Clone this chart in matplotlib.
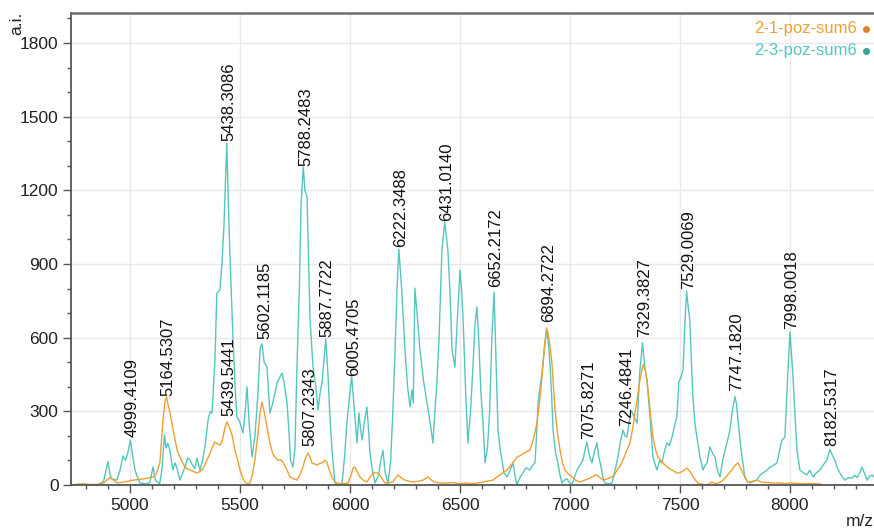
import matplotlib
matplotlib.use("Agg")
import matplotlib.pyplot as plt
from matplotlib.ticker import MultipleLocator

plt.rcParams['font.family'] = ['Liberation Sans', 'DejaVu Sans']

# 2-3-poz-sum6 (teal)
teal_mz = [4862, 4880, 4900, 4910, 4918, 4940, 4955, 4968, 4980, 4990, 5002, 5012, 5023, 5035, 5045,
           5070, 5090, 5105, 5115, 5135, 5145, 5157, 5164, 5172, 5182, 5195, 5205, 5214, 5227, 5240,
           5250, 5262, 5273, 5285, 5295, 5305, 5318, 5330, 5341, 5355, 5365, 5373, 5386, 5395, 5409,
           5418, 5427, 5440, 5452, 5468, 5478, 5486, 5495, 5505, 5514, 5524, 5532, 5542, 5555, 5568,
           5580, 5592, 5600, 5610, 5623, 5636, 5648, 5659, 5670, 5682, 5691, 5700, 5714, 5723, 5730,
           5741, 5750, 5759, 5770, 5778, 5788, 5795, 5805, 5818, 5832, 5845, 5855, 5865, 5873, 5883,
           5890, 5900, 5909, 5920, 5932, 5950, 5964, 5976, 5986, 6000, 6008, 6018, 6023, 6032, 6041,
           6048, 6055, 6066, 6077, 6085, 6091, 6102, 6114, 6130, 6140, 6150, 6160, 6173, 6185, 6195,
           6205, 6214, 6222, 6235, 6250, 6262, 6273, 6282, 6288, 6295, 6305, 6318, 6335, 6350, 6365,
           6377, 6386, 6395, 6405, 6418, 6431, 6445, 6454, 6464, 6477, 6490, 6500, 6507, 6514, 6525,
           6536, 6548, 6559, 6568, 6577, 6585, 6595, 6605, 6614, 6625, 6635, 6645, 6655, 6664, 6673,
           6682, 6691, 6700, 6714, 6728, 6741, 6750, 6759, 6772, 6786, 6800, 6818, 6830, 6841, 6848,
           6855, 6864, 6873, 6884, 6895, 6902, 6909, 6916, 6923, 6935, 6945, 6955, 6964, 6975, 6986,
           6998, 7009, 7020, 7032, 7045, 7059, 7068, 7077, 7088, 7100, 7112, 7123, 7130, 7140, 7150,
           7159, 7175, 7191, 7205, 7218, 7230, 7241, 7250, 7259, 7268, 7278, 7290, 7305, 7318, 7330,
           7340, 7350, 7364, 7377, 7395, 7408, 7418, 7430, 7441, 7452, 7464, 7478, 7486, 7495, 7505,
           7514, 7522, 7530, 7538, 7545, 7552, 7559, 7568, 7577, 7591, 7605, 7614, 7623, 7636, 7648,
           7659, 7670, 7682, 7694, 7705, 7716, 7727, 7738, 7750, 7757, 7764, 7773, 7782, 7795, 7808,
           7818, 7835, 7850, 7864, 7877, 7895, 7909, 7925, 7941, 7955, 7964, 7977, 7990, 8000, 8008,
           8014, 8023, 8032, 8045, 8060, 8077, 8090, 8105, 8120, 8136, 8150, 8168, 8182, 8193, 8205,
           8215, 8227, 8240, 8250, 8265, 8282, 8295, 8305, 8318, 8327, 8338, 8350, 8362, 8373, 8385]
teal_ai = [5, 15, 96, 40, 25, 20, 60, 118, 100, 130, 183, 120, 61, 30, 8,
           5, 10, 73, 20, 5, 60, 205, 150, 170, 140, 61, 90, 67, 20, 50,
           73, 110, 102, 80, 67, 110, 60, 100, 155, 265, 300, 293, 500, 780, 795,
           900, 1050, 1392, 1000, 603, 400, 277, 265, 240, 212, 300, 400, 250, 114, 200,
           350, 560, 575, 500, 480, 293, 330, 375, 420, 440, 456, 420, 334, 212, 100,
           73, 150, 480, 800, 1150, 1295, 1200, 1173, 684, 480, 400, 305, 380, 415, 520,
           595, 450, 277, 120, 8, 0, 5, 120, 252, 380, 440, 330, 277, 171, 293,
           230, 183, 260, 318, 220, 130, 60, 8, 40, 100, 142, 50, 5, 100, 300,
           550, 800, 960, 800, 550, 400, 318, 387, 334, 802, 700, 550, 420, 334, 250,
           171, 300, 415, 600, 957, 1071, 957, 800, 550, 480, 700, 875, 800, 684, 400,
           171, 300, 480, 650, 725, 600, 380, 250, 90, 150, 300, 600, 786, 500, 224,
           150, 102, 50, 33, 60, 90, 40, 0, 30, 49, 70, 61, 80, 90, 200,
           334, 400, 456, 560, 631, 580, 497, 380, 224, 130, 90, 40, 8, 20, 25,
           10, 0, 30, 61, 80, 102, 140, 175, 120, 90, 140, 171, 120, 80, 30,
           8, 5, 8, 60, 114, 180, 224, 200, 195, 250, 305, 280, 252, 468, 580,
           480, 427, 277, 114, 61, 100, 90, 140, 171, 160, 195, 250, 277, 420, 440,
           468, 650, 790, 720, 672, 500, 358, 250, 195, 114, 61, 80, 90, 155, 130,
           114, 60, 33, 100, 142, 180, 224, 300, 360, 330, 265, 180, 114, 33, 15,
           8, 15, 20, 40, 49, 60, 73, 80, 90, 150, 183, 195, 450, 623, 520,
           440, 280, 142, 61, 50, 41, 60, 33, 50, 61, 80, 102, 145, 120, 100,
           70, 49, 30, 20, 30, 28, 40, 30, 50, 73, 50, 20, 35, 41, 30]

# 2-1-poz-sum6 (orange)
orange_mz = [4732, 4760, 4790, 4820, 4859, 4880, 4895, 4909, 4925, 4941, 4968, 4990, 5014, 5040, 5059,
             5080, 5105, 5120, 5136, 5150, 5160, 5166, 5175, 5182, 5195, 5205, 5215, 5227, 5240, 5250,
             5262, 5273, 5290, 5305, 5318, 5327, 5340, 5350, 5362, 5373, 5386, 5398, 5409, 5418, 5423,
             5432, 5441, 5452, 5464, 5477, 5490, 5500, 5512, 5523, 5535, 5545, 5556, 5568, 5582, 5592,
             5600, 5612, 5623, 5636, 5648, 5659, 5670, 5682, 5690, 5700, 5714, 5727, 5745, 5759, 5772,
             5786, 5798, 5809, 5818, 5827, 5840, 5850, 5862, 5873, 5885, 5895, 5906, 5918, 5930, 5941,
             5965, 5991, 6005, 6015, 6023, 6035, 6045, 6060, 6077, 6090, 6105, 6120, 6136, 6150, 6159,
             6180, 6195, 6208, 6218, 6232, 6250, 6270, 6286, 6310, 6332, 6355, 6370, 6386, 6410, 6441,
             6470, 6500, 6530, 6560, 6590, 6620, 6650, 6680, 6714, 6740, 6760, 6775, 6790, 6818, 6835,
             6850, 6862, 6873, 6885, 6893, 6900, 6910, 6918, 6932, 6945, 6955, 6966, 6977, 6993, 7009,
             7025, 7045, 7068, 7091, 7110, 7123, 7137, 7150, 7170, 7191, 7205, 7214, 7230, 7241, 7258,
             7273, 7286, 7298, 7305, 7318, 7332, 7342, 7350, 7364, 7377, 7390, 7400, 7412, 7423, 7440,
             7455, 7470, 7486, 7500, 7515, 7532, 7545, 7555, 7570, 7582, 7600, 7623, 7645, 7660, 7673,
             7690, 7705, 7720, 7736, 7750, 7764, 7775, 7786, 7798, 7809, 7830, 7850, 7870, 7895, 7925,
             7955, 7980, 8000, 8030, 8059, 8090, 8123, 8140]
orange_ai = [0, 3, 5, 2, 3, 8, 20, 30, 20, 8, 12, 15, 20, 22, 25,
             28, 33, 45, 90, 265, 345, 358, 320, 293, 230, 183, 140, 114, 90, 73,
             65, 61, 55, 49, 55, 61, 80, 102, 125, 150, 175, 168, 163, 175, 195,
             235, 257, 235, 203, 142, 100, 61, 30, 12, 5, 8, 40, 102, 212, 300,
             338, 290, 236, 171, 130, 114, 102, 102, 100, 85, 60, 33, 25, 20, 40,
             73, 110, 130, 115, 90, 85, 81, 88, 90, 100, 94, 60, 33, 15, 8,
             5, 8, 40, 70, 73, 50, 33, 20, 12, 30, 49, 50, 41, 20, 8,
             10, 12, 30, 41, 30, 20, 15, 12, 15, 20, 33, 20, 12, 8, 8,
             10, 5, 8, 5, 10, 15, 20, 40, 61, 90, 114, 120, 130, 142, 190,
             252, 340, 440, 570, 640, 620, 560, 497, 305, 200, 142, 90, 61, 45, 33,
             20, 12, 20, 28, 38, 41, 30, 20, 25, 33, 45, 61, 80, 102, 140,
             171, 236, 310, 346, 427, 490, 470, 427, 305, 195, 140, 114, 100, 90, 75,
             65, 58, 49, 50, 58, 69, 55, 41, 20, 8, 3, 0, 12, 5, 8,
             15, 28, 45, 61, 80, 90, 70, 49, 25, 12, 15, 20, 12, 10, 8,
             8, 5, 8, 6, 5, 6, 5, 4]

# peak labels and where they sit
peak_labels = ['4999.4109', '5164.5307', '5438.3086', '5439.5441', '5602.1185', '5788.2483',
               '5807.2343', '5887.7722', '6005.4705', '6222.3488', '6431.0140', '6652.2172',
               '6894.2722', '7075.8271', '7246.4841', '7329.3827', '7529.0069', '7747.1820',
               '7998.0018', '8182.5317']
peak_ai = [191, 358, 1396, 277, 590, 1295, 155, 598, 440, 965, 1071, 802,
           660, 183, 236, 598, 794, 379, 631, 155]

series_names = ['2-1-poz-sum6', '2-3-poz-sum6']
teal = '#55C6BF'
orange = '#EFA030'

fig = plt.figure(figsize=(8.74, 5.32), dpi=100)
ax = fig.add_axes([71 / 874, 1 - 485 / 532, 1 - 71 / 874, (485 - 13) / 532])

ax.plot(teal_mz, teal_ai, color=teal, lw=1.0)
ax.plot(orange_mz, orange_ai, color=orange, lw=1.0)

for lab, yv in zip(peak_labels, peak_ai):
    ax.annotate(lab, (float(lab), yv), xytext=(1.5, 1), textcoords='offset points',
                rotation=90, ha='center', va='bottom', fontsize=12, color='#111111')

ax.set_xlim(4732, 8382)
ax.set_ylim(0, 1922)
ax.xaxis.set_major_locator(MultipleLocator(500))
ax.xaxis.set_minor_locator(MultipleLocator(100))
ax.yaxis.set_major_locator(MultipleLocator(300))
ax.yaxis.set_minor_locator(MultipleLocator(100))
ax.grid(True, which='major', color='#E9E9E9', lw=1.0)
ax.set_axisbelow(True)
ax.tick_params(which='major', length=6, width=1, color='#555555', labelsize=12.5,
               labelcolor='#222222', pad=3)
ax.tick_params(which='minor', length=3, width=1, color='#555555')

ax.spines['right'].set_visible(False)
ax.spines['top'].set_color('#6E6E6E')
ax.spines['top'].set_linewidth(1.8)
for s in ['left', 'bottom']:
    ax.spines[s].set_color('#555555')
    ax.spines[s].set_linewidth(1.3)

# legend, right aligned text with a dot after it
fig.text(857 / 874, 1 - 29 / 532, series_names[0], color=orange, fontsize=12,
         ha='right', va='center')
fig.text(857 / 874, 1 - 51 / 532, series_names[1], color=teal, fontsize=12,
         ha='right', va='center')
fig.lines.append(plt.Line2D([866 / 874], [1 - 29 / 532], marker='o', ms=4, color='#D9822B',
                            transform=fig.transFigure))
fig.lines.append(plt.Line2D([866 / 874], [1 - 51 / 532], marker='o', ms=4, color='#3AA39A',
                            transform=fig.transFigure))

fig.text(17 / 874, 1 - 12 / 532, 'a.i.', rotation=90, ha='center', va='top', fontsize=12.5,
         color='#222222')
fig.text(860 / 874, 1 - 522 / 532, 'm/z', ha='center', va='center', fontsize=12.5,
         color='#222222')

fig.savefig('out.png', dpi=100)
